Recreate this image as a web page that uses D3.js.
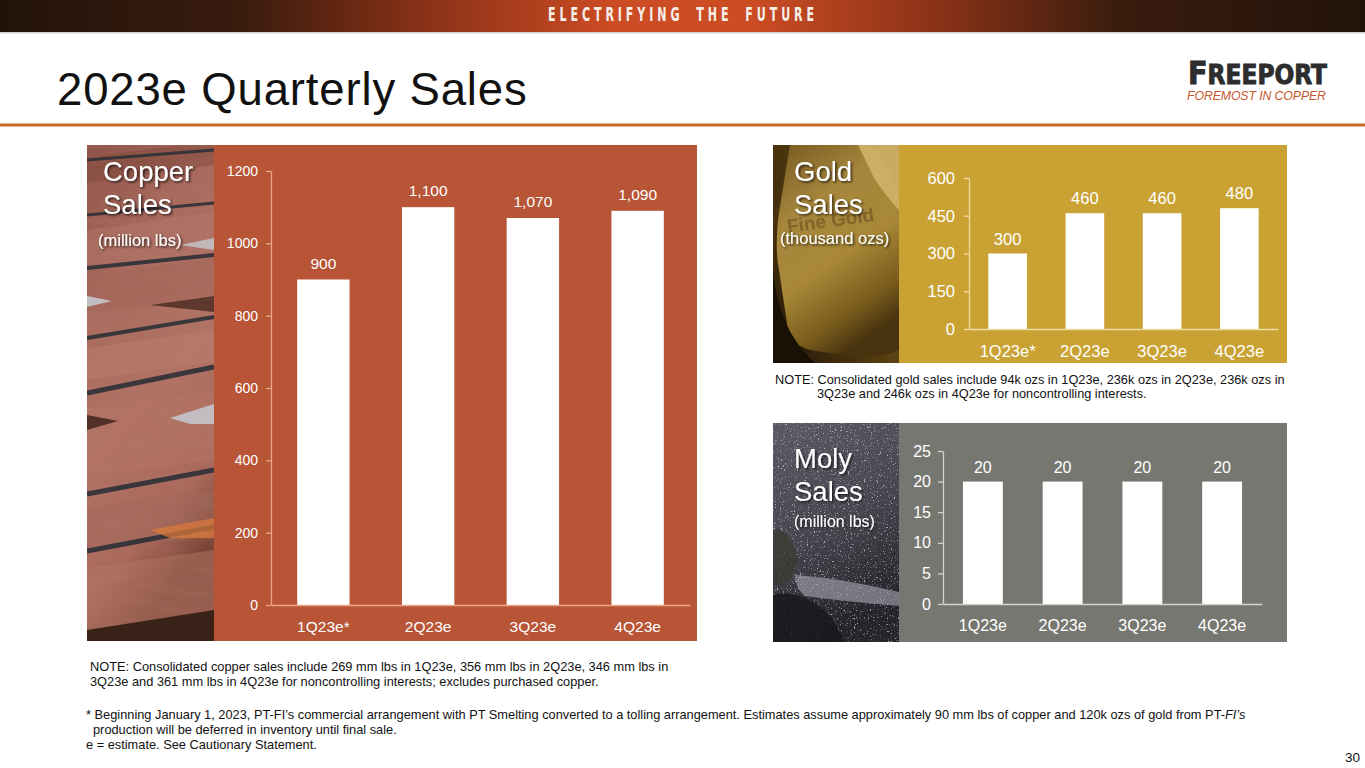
<!DOCTYPE html>
<html>
<head>
<meta charset="utf-8">
<script src="https://cdn.jsdelivr.net/npm/d3@7"></script>
<style>
  html, body { margin: 0; padding: 0; background: #fff; }
  svg { display: block; font-family: "Liberation Sans", Arial, sans-serif; }
</style>
</head>
<body>
<svg id="slide" width="1365" height="768"></svg>
<script>
// chart values
var copperQuarters = ["1Q23e*", "2Q23e", "3Q23e", "4Q23e"];
var copperValues = [900, 1100, 1070, 1090];
var copperLabels = ["900", "1,100", "1,070", "1,090"];
var copperTicks = [0, 200, 400, 600, 800, 1000, 1200];

var goldQuarters = ["1Q23e*", "2Q23e", "3Q23e", "4Q23e"];
var goldValues = [300, 460, 460, 480];
var goldTicks = [0, 150, 300, 450, 600];

var molyQuarters = ["1Q23e", "2Q23e", "3Q23e", "4Q23e"];
var molyValues = [20, 20, 20, 20];
var molyTicks = [0, 5, 10, 15, 20, 25];

var svg = d3.select("#slide");
var defs = svg.append("defs");

// ---- header band ----
var hg = defs.append("linearGradient").attr("id", "band").attr("x1", 0).attr("x2", 1);
[["0%", "#22130a"], ["18%", "#3a1c0e"], ["32%", "#8e3318"], ["45%", "#cc4c24"], ["55%", "#cc4c24"], ["68%", "#8e3318"], ["82%", "#3a1c0e"], ["100%", "#22130a"]]
  .forEach(function (s) { hg.append("stop").attr("offset", s[0]).attr("stop-color", s[1]); });
var glow = defs.append("radialGradient").attr("id", "glow").attr("cx", 0.5).attr("cy", 1).attr("r", 0.5);
glow.append("stop").attr("offset", "0%").attr("stop-color", "#f0b858").attr("stop-opacity", 1);
glow.append("stop").attr("offset", "100%").attr("stop-color", "#e89040").attr("stop-opacity", 0);
defs.append("clipPath").attr("id", "bandClip").append("rect").attr("x", 0).attr("y", 0).attr("width", 1365).attr("height", 32);

svg.append("rect").attr("x", 0).attr("y", 0).attr("width", 1365).attr("height", 32).attr("fill", "url(#band)");
svg.append("ellipse").attr("clip-path", "url(#bandClip)").attr("cx", 683).attr("cy", 34).attr("rx", 150).attr("ry", 26).attr("fill", "url(#glow)");
svg.append("rect").attr("x", 0).attr("y", 32).attr("width", 1365).attr("height", 1.5).attr("fill", "#d6d0cc");
svg.append("text").attr("x", 548).attr("y", 21)
  .attr("font-family", "'Liberation Sans Narrow', 'DejaVu Sans Condensed', sans-serif")
  .attr("font-weight", "bold").attr("font-size", 19)
  .attr("letter-spacing", 6).attr("word-spacing", 8)
  .attr("textLength", 270).attr("lengthAdjust", "spacingAndGlyphs")
  .attr("fill", "#f6eee8").text("ELECTRIFYING THE FUTURE");

// ---- title and logo ----
svg.append("text").attr("x", 57).attr("y", 105).attr("font-size", 45.5).attr("fill", "#111")
  .attr("letter-spacing", 0.85).text("2023e Quarterly Sales");

var logo = svg.append("text").attr("x", 1188).attr("y", 84)
  .attr("font-family", "'Liberation Sans Narrow', 'DejaVu Sans Condensed', sans-serif")
  .attr("font-weight", "bold").attr("fill", "#2d2d2d").attr("stroke", "#2d2d2d").attr("stroke-width", 0.9)
  .attr("textLength", 139).attr("lengthAdjust", "spacingAndGlyphs");
logo.append("tspan").attr("font-size", 32).text("F");
logo.append("tspan").attr("font-size", 26).text("REEPORT");
svg.append("text").attr("x", 1187).attr("y", 100).attr("font-size", 12.3).attr("font-style", "italic")
  .attr("fill", "#c4572b").attr("textLength", 139).text("FOREMOST IN COPPER");

svg.append("rect").attr("x", 0).attr("y", 123.5).attr("width", 1365).attr("height", 3).attr("fill", "#c76a2b");

// ---- filters for photo panels ----
var shadow = defs.append("filter").attr("id", "tshadow").attr("x", -0.2).attr("y", -0.3).attr("width", 1.4).attr("height", 1.6);
shadow.append("feDropShadow").attr("dx", 1.5).attr("dy", 1.5).attr("stdDeviation", 1.2)
  .attr("flood-color", "#000").attr("flood-opacity", 0.7);

var speck = defs.append("filter").attr("id", "speck").attr("x", 0).attr("y", 0).attr("width", 1).attr("height", 1);
speck.append("feTurbulence").attr("type", "fractalNoise").attr("baseFrequency", 0.7).attr("numOctaves", 2).attr("seed", 7);
speck.append("feColorMatrix").attr("type", "matrix")
  .attr("values", "0 0 0 0 0.9  0 0 0 0 0.9  0 0 0 0 0.96  4 4 0 0 -4.6");
speck.append("feComposite").attr("in2", "SourceGraphic").attr("operator", "in");

var grain = defs.append("filter").attr("id", "grain").attr("x", 0).attr("y", 0).attr("width", 1).attr("height", 1);
grain.append("feTurbulence").attr("type", "fractalNoise").attr("baseFrequency", "0.02 0.12").attr("numOctaves", 3).attr("seed", 2);
grain.append("feColorMatrix").attr("type", "matrix")
  .attr("values", "0 0 0 0 0.45  0 0 0 0 0.2  0 0 0 0 0.15  0 0 0 1.1 -0.45");
grain.append("feComposite").attr("in2", "SourceGraphic").attr("operator", "in");

// copper photo
(function () {
  var g = svg.append("g");
  var cg = defs.append("linearGradient").attr("id", "cuPhoto").attr("x1", 0).attr("y1", 0).attr("x2", 0.3).attr("y2", 1);
  [["0%", "#8e5347"], ["30%", "#a86a5d"], ["60%", "#b07264"], ["85%", "#a9695b"], ["100%", "#7a4536"]]
    .forEach(function (s) { cg.append("stop").attr("offset", s[0]).attr("stop-color", s[1]); });
  defs.append("clipPath").attr("id", "cuClip").append("rect").attr("x", 87).attr("y", 145).attr("width", 127).attr("height", 496);
  g.attr("clip-path", "url(#cuClip)");
  g.append("rect").attr("x", 87).attr("y", 145).attr("width", 127).attr("height", 496).attr("fill", "url(#cuPhoto)");
  var plates = [[150, 175, "#7d4639"], [222, 262, "#b27669"], [268, 305, "#9f6355"], [340, 372, "#b97d6e"], [400, 470, "#b37466"], [500, 545, "#a2695b"], [560, 625, "#b27566"]];
  plates.forEach(function (p) {
    g.append("polygon").attr("points", [[87, p[0] + 8], [214, p[0] - 10], [214, p[1] - 10], [87, p[1] + 8]].join(" "))
      .attr("fill", p[2]).attr("opacity", 0.5);
  });
  g.append("rect").attr("x", 87).attr("y", 145).attr("width", 127).attr("height", 496).attr("fill", "#fff").attr("filter", "url(#grain)").attr("opacity", 0.45);
  var stripes = [[160, 150, 3], [215, 203, 3], [268, 255, 4], [338, 317, 4], [393, 367, 5], [494, 470, 5], [551, 527, 5]];
  stripes.forEach(function (s) {
    g.append("line").attr("x1", 87).attr("y1", s[0]).attr("x2", 214).attr("y2", s[1])
      .attr("stroke", "#2e3038").attr("stroke-width", s[2]).attr("opacity", 0.9);
  });
  g.append("polygon").attr("points", "87,296 112,301 87,307").attr("fill", "#c8d4dc").attr("opacity", 0.8);
  g.append("polygon").attr("points", "170,418 214,404 214,424 190,424").attr("fill", "#c8d0d8").attr("opacity", 0.8);
  g.append("polygon").attr("points", "180,245 214,238 214,250").attr("fill", "#c8d4dc").attr("opacity", 0.7);
  g.append("polygon").attr("points", "150,530 214,518 214,538 170,538").attr("fill", "#e07a3a").attr("opacity", 0.7);
  g.append("polygon").attr("points", "87,415 118,421 87,430").attr("fill", "#3a2018").attr("opacity", 0.8);
  g.append("polygon").attr("points", "87,630 214,610 214,641 87,641").attr("fill", "#3a2218");
  g.append("polygon").attr("points", "150,305 214,296 214,312").attr("fill", "#4a2a20").attr("opacity", 0.8);
})();

// gold photo
(function () {
  var g = svg.append("g");
  defs.append("clipPath").attr("id", "auClip").append("rect").attr("x", 773).attr("y", 145).attr("width", 126).attr("height", 218);
  g.attr("clip-path", "url(#auClip)");
  var ag = defs.append("linearGradient").attr("id", "auPhoto").attr("x1", 1).attr("y1", 0).attr("x2", 0).attr("y2", 1);
  [["0%", "#7a5a1c"], ["40%", "#6a4c14"], ["100%", "#1c1206"]]
    .forEach(function (s) { ag.append("stop").attr("offset", s[0]).attr("stop-color", s[1]); });
  g.append("rect").attr("x", 773).attr("y", 145).attr("width", 126).attr("height", 218).attr("fill", "url(#auPhoto)");
  var bg = defs.append("linearGradient").attr("id", "auBar").attr("x1", 0.1).attr("y1", 0).attr("x2", 0.5).attr("y2", 1);
  [["0%", "#7c5e24"], ["30%", "#a6863c"], ["60%", "#a88838"], ["85%", "#7a5c1c"], ["100%", "#4a3410"]]
    .forEach(function (s) { bg.append("stop").attr("offset", s[0]).attr("stop-color", s[1]); });
  g.append("path").attr("d", "M790,145 L870,145 Q899,175 899,205 L899,350 Q880,360 850,356 L810,350 Q792,345 788,330 L779,270 Q775,250 778,220 Z")
    .attr("fill", "url(#auBar)");
  g.append("path").attr("d", "M858,145 L899,145 L899,210 Q885,195 874,178 Z").attr("fill", "#d2b468").attr("opacity", 0.9);
  g.append("path").attr("d", "M773,270 Q778,330 815,363 L773,363 Z").attr("fill", "#1a1005");
  g.append("path").attr("d", "M773,145 L790,145 L780,200 L773,215 Z").attr("fill", "#3a2a0c").attr("opacity", 0.6);
  g.append("text").attr("x", 788).attr("y", 233).attr("font-size", 19).attr("font-weight", "bold")
    .attr("fill", "#6e5220").attr("opacity", 0.65).attr("transform", "rotate(-8,788,233)").text("Fine Gold");
})();

// moly photo
(function () {
  var g = svg.append("g");
  defs.append("clipPath").attr("id", "moClip").append("rect").attr("x", 773).attr("y", 423).attr("width", 126).attr("height", 219);
  g.attr("clip-path", "url(#moClip)");
  var mg = defs.append("linearGradient").attr("id", "moPhoto").attr("x1", 0).attr("y1", 0).attr("x2", 0.3).attr("y2", 1);
  [["0%", "#5a5a66"], ["55%", "#46464f"], ["100%", "#24242a"]]
    .forEach(function (s) { mg.append("stop").attr("offset", s[0]).attr("stop-color", s[1]); });
  g.append("rect").attr("x", 773).attr("y", 423).attr("width", 126).attr("height", 219).attr("fill", "url(#moPhoto)");
  g.append("rect").attr("x", 773).attr("y", 423).attr("width", 126).attr("height", 219).attr("fill", "#fff").attr("filter", "url(#speck)").attr("opacity", 0.6);
  g.append("path").attr("d", "M773,530 Q790,525 798,560 L790,580 L773,585 Z").attr("fill", "#3a3a30").attr("opacity", 0.75);
  g.append("path").attr("d", "M795,575 Q840,578 899,592 L899,606 Q850,602 805,596 Q795,588 795,575 Z").attr("fill", "#a8a8b8").attr("opacity", 0.6);
  g.append("path").attr("d", "M773,595 Q800,588 830,615 L845,642 L773,642 Z").attr("fill", "#18181c").attr("opacity", 0.85);
})();

// ---- bar panels ----
function drawPanel(cfg) {
  var g = svg.append("g");
  g.append("rect").attr("x", cfg.box[0]).attr("y", cfg.box[1]).attr("width", cfg.box[2]).attr("height", cfg.box[3]).attr("fill", cfg.bg);

  var x = d3.scaleBand().domain(cfg.cats).range(cfg.xRange).paddingInner(0.5).paddingOuter(0.25);
  var y = d3.scaleLinear().domain([0, d3.max(cfg.ticks)]).range(cfg.yRange);

  g.selectAll(".bar").data(cfg.values).enter().append("rect")
    .attr("class", "bar")
    .attr("x", function (d, i) { return x(cfg.cats[i]); })
    .attr("y", function (d) { return y(d); })
    .attr("width", x.bandwidth())
    .attr("height", function (d) { return y(0) - y(d); })
    .attr("fill", "#fff");

  var yAxis = g.append("g").attr("transform", "translate(" + cfg.xRange[0] + ",0)")
    .call(d3.axisLeft(y).tickValues(cfg.ticks).tickSize(5).tickSizeOuter(0).tickPadding(cfg.tickPad).tickFormat(d3.format("d")));
  yAxis.selectAll("text").attr("font-size", cfg.tickFont).attr("fill", "#fff").attr("font-family", "'Liberation Sans', Arial, sans-serif");

  var xAxis = g.append("g").attr("transform", "translate(0," + cfg.yRange[0] + ")")
    .call(d3.axisBottom(x).tickSize(0).tickSizeOuter(0).tickPadding(cfg.catPad));
  xAxis.selectAll("text").attr("font-size", cfg.catFont).attr("fill", "#fff").attr("font-family", "'Liberation Sans', Arial, sans-serif");

  g.selectAll(".domain, .tick line").attr("stroke", cfg.axisColor).attr("stroke-width", 1.3);

  g.selectAll(".val").data(cfg.values).enter().append("text")
    .attr("class", "val")
    .attr("x", function (d, i) { return x(cfg.cats[i]) + x.bandwidth() / 2; })
    .attr("y", function (d) { return y(d) - cfg.valGap; })
    .attr("text-anchor", "middle")
    .attr("font-size", cfg.valFont)
    .attr("fill", "#fff")
    .text(function (d, i) { return cfg.valText ? cfg.valText[i] : d; });

  // panel title over the photo
  var t = g.append("g").attr("filter", "url(#tshadow)").attr("fill", "#fff");
  t.append("text").attr("x", cfg.title[0]).attr("y", cfg.title[1]).attr("font-size", 27.5).text(cfg.title[2]);
  t.append("text").attr("x", cfg.title[0]).attr("y", cfg.title[1] + 33).attr("font-size", 27.5).text("Sales");
  t.append("text").attr("x", cfg.unit[0]).attr("y", cfg.unit[1]).attr("font-size", cfg.unit[3]).text(cfg.unit[2]);
}

drawPanel({
  box: [214, 145, 483, 496], bg: "#b85536", axisColor: "#eca68c",
  cats: copperQuarters, values: copperValues, valText: copperLabels, ticks: copperTicks,
  xRange: [271, 690], yRange: [605, 171],
  tickPad: 8, tickFont: 14, catPad: 16, catFont: 15.5, valFont: 15.5, valGap: 11,
  title: [103, 181, "Copper"], unit: [98, 246, "(million lbs)", 16.5]
});

drawPanel({
  box: [899, 145, 388, 218], bg: "#c9a233", axisColor: "#ecdba2",
  cats: goldQuarters, values: goldValues, ticks: goldTicks,
  xRange: [969, 1278], yRange: [329, 178],
  tickPad: 9, tickFont: 16.5, catPad: 16, catFont: 16.5, valFont: 16.5, valGap: 9,
  title: [794, 181, "Gold"], unit: [780, 244, "(thousand ozs)", 16.5]
});

drawPanel({
  box: [899, 423, 388, 219], bg: "#777771", axisColor: "#d2d2ce",
  cats: molyQuarters, values: molyValues, ticks: molyTicks,
  xRange: [943, 1262], yRange: [604, 451],
  tickPad: 7, tickFont: 16, catPad: 16, catFont: 16, valFont: 16, valGap: 9,
  title: [794, 468, "Moly"], unit: [794, 527, "(million lbs)", 16]
});

// ---- notes ----
function lines(x, y0, step, arr, size) {
  arr.forEach(function (l, i) {
    svg.append("text").attr("x", l[1] !== undefined ? l[1] : x).attr("y", y0 + i * step)
      .attr("font-size", size).attr("fill", "#111").text(l[0]);
  });
}
lines(775, 384, 14, [
  ["NOTE: Consolidated gold sales include 94k ozs in 1Q23e, 236k ozs in 2Q23e, 236k ozs in"],
  ["3Q23e and 246k ozs in 4Q23e for noncontrolling interests.", 817]
], 12.75);
lines(90, 671, 15, [
  ["NOTE: Consolidated copper sales include 269 mm lbs in 1Q23e, 356 mm lbs in 2Q23e, 346 mm lbs in"],
  ["3Q23e and 361 mm lbs in 4Q23e for noncontrolling interests; excludes purchased copper."]
], 12.8);
var fn = svg.append("text").attr("x", 86).attr("y", 719).attr("font-size", 12.8).attr("fill", "#111");
fn.append("tspan").text("* Beginning January 1, 2023, PT-FI\u2019s commercial arrangement with PT Smelting converted to a tolling arrangement. Estimates assume approximately 90 mm lbs of copper and 120k ozs of gold from PT-");
fn.append("tspan").attr("font-style", "italic").text("FI\u2019s");
lines(86, 734, 15, [
  ["production will be deferred in inventory until final sale.", 93],
  ["e = estimate. See Cautionary Statement."]
], 12.8);
svg.append("text").attr("x", 1360).attr("y", 762).attr("text-anchor", "end").attr("font-size", 13.5).attr("fill", "#111").text("30");
</script>
</body>
</html>
